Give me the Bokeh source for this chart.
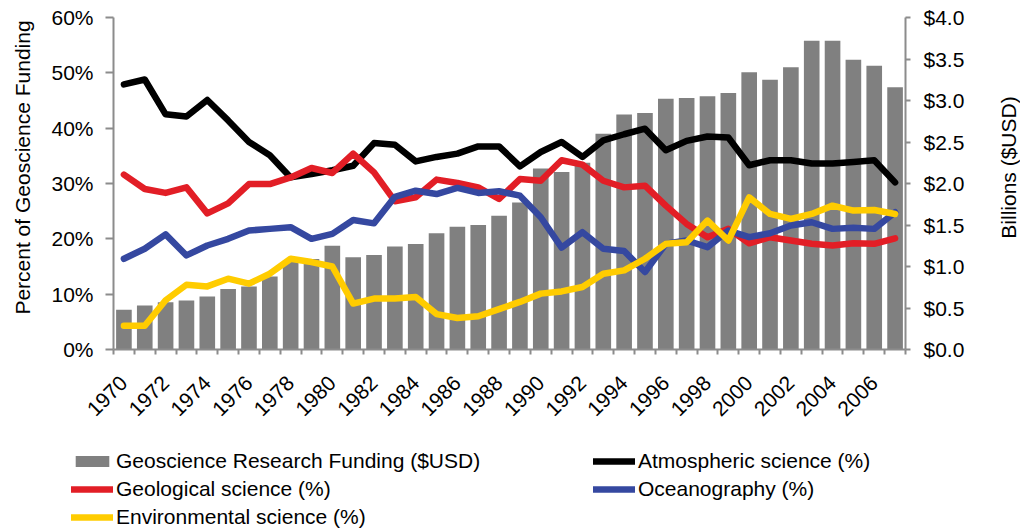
import math
from bokeh.plotting import figure
from bokeh.layouts import column, row
from bokeh.models import (Range1d, LinearAxis, FixedTicker, PrintfTickFormatter,
                          Legend, LegendItem, Label)
from bokeh.embed import file_html
from bokeh.resources import INLINE

years = list(range(1970, 2008))
year_labels = list(range(1970, 2007, 2))

funding_busd = [0.48, 0.53, 0.57, 0.59, 0.64, 0.73, 0.76, 0.88, 1.07, 1.09,
                1.25, 1.11, 1.14, 1.24, 1.27, 1.40, 1.48, 1.50, 1.61, 1.77,
                2.18, 2.14, 2.25, 2.60, 2.83, 2.85, 3.02, 3.03, 3.05, 3.09,
                3.34, 3.25, 3.40, 3.72, 3.72, 3.49, 3.42, 3.16]
atmospheric = [47.9, 48.8, 42.5, 42.1, 45.1, 41.4, 37.5, 35.1, 31.1, 31.7,
               32.4, 33.2, 37.3, 37.0, 34.0, 34.8, 35.4, 36.7, 36.7, 33.1,
               35.7, 37.5, 34.8, 37.8, 38.9, 39.9, 36.0, 37.7, 38.5, 38.3,
               33.3, 34.2, 34.2, 33.6, 33.6, 33.9, 34.2, 30.2]
geological = [31.6, 29.0, 28.3, 29.3, 24.6, 26.4, 29.9, 29.9, 31.1, 32.8,
              31.9, 35.4, 32.0, 26.8, 27.5, 30.7, 30.1, 29.3, 27.2, 30.8,
              30.5, 34.2, 33.4, 30.5, 29.3, 29.6, 26.0, 22.7, 20.3, 21.8,
              19.2, 20.3, 19.7, 19.1, 18.8, 19.2, 19.1, 20.1]
oceanography = [16.4, 18.2, 20.8, 17.0, 18.8, 20.0, 21.5, 21.8, 22.1, 20.0,
                20.9, 23.4, 22.8, 27.6, 28.7, 28.1, 29.2, 28.3, 28.6, 27.8,
                23.9, 18.4, 21.2, 18.2, 17.8, 14.0, 19.1, 19.7, 18.5, 21.5,
                20.3, 21.0, 22.4, 23.0, 21.8, 22.0, 21.8, 24.8]
environmental = [4.3, 4.3, 8.9, 11.7, 11.4, 12.8, 11.9, 13.7, 16.4, 15.8,
                 15.0, 8.3, 9.2, 9.2, 9.5, 6.4, 5.7, 6.0, 7.3, 8.6,
                 10.1, 10.5, 11.3, 13.7, 14.3, 16.4, 19.1, 19.4, 23.3, 19.7,
                 27.5, 24.5, 23.6, 24.5, 26.0, 25.1, 25.2, 24.5]

pct_ticks = [0, 10, 20, 30, 40, 50, 60]
usd_ticks = [0, 0.5, 1.0, 1.5, 2.0, 2.5, 3.0, 3.5, 4.0]

FONT = "Liberation Sans"
FS = "21px"
GRAY = "#8c8c8c"
C_BAR = "#808080"
C_ATM = "#000000"
C_GEO = "#E21E26"
C_OCE = "#3548A0"
C_ENV = "#FFCC00"
LW = 6.5

TOP_H = 440
LEFT_W = 40
RIGHT_W = 25
MAIN_W = 1020 - LEFT_W - RIGHT_W
LEG_H = 529 - TOP_H
FRAME_TOP = 17
FRAME_BOTTOM = 349

p = figure(width=MAIN_W, height=TOP_H, output_backend="svg", toolbar_location=None,
           title=None,
           x_range=Range1d(1969.5, 2007.5), y_range=Range1d(0, 60),
           min_border_left=113 - LEFT_W, min_border_right=LEFT_W + MAIN_W - 905,
           min_border_top=FRAME_TOP, min_border_bottom=TOP_H - FRAME_BOTTOM,
           x_axis_type=None, y_axis_type=None)
p.outline_line_color = None
p.extra_y_ranges = {"usd": Range1d(0, 4)}

xaxis = LinearAxis(ticker=FixedTicker(ticks=year_labels,
                                      minor_ticks=[y - 0.5 for y in years] + [2007.5]))
xaxis.major_tick_line_color = None
xaxis.major_tick_out = 0
xaxis.major_tick_in = 0
xaxis.minor_tick_out = 5
xaxis.minor_tick_in = 0
xaxis.minor_tick_line_color = GRAY
xaxis.minor_tick_line_width = 2
xaxis.axis_line_color = GRAY
xaxis.axis_line_width = 2
xaxis.major_label_orientation = math.pi / 4
xaxis.major_label_standoff = 25
xaxis.major_label_text_font = FONT
xaxis.major_label_text_font_size = FS
xaxis.major_label_text_color = "#000000"
p.add_layout(xaxis, "below")

yaxis = LinearAxis(ticker=FixedTicker(ticks=pct_ticks),
                   formatter=PrintfTickFormatter(format="%d%%"))
yaxis.major_tick_out = 8
yaxis.major_tick_in = 0
yaxis.major_tick_line_color = GRAY
yaxis.major_tick_line_width = 2
yaxis.minor_tick_line_color = None
yaxis.axis_line_color = GRAY
yaxis.axis_line_width = 2
yaxis.major_label_standoff = 12
yaxis.major_label_text_font = FONT
yaxis.major_label_text_font_size = FS
yaxis.major_label_text_color = "#000000"
p.add_layout(yaxis, "left")

raxis = LinearAxis(y_range_name="usd", ticker=FixedTicker(ticks=usd_ticks),
                   formatter=PrintfTickFormatter(format="$%.1f"))
raxis.major_tick_out = 5
raxis.major_tick_in = 0
raxis.major_tick_line_color = GRAY
raxis.major_tick_line_width = 2
raxis.minor_tick_line_color = None
raxis.axis_line_color = GRAY
raxis.axis_line_width = 2
raxis.major_label_standoff = 13
raxis.major_label_text_font = FONT
raxis.major_label_text_font_size = FS
raxis.major_label_text_color = "#000000"
p.add_layout(raxis, "right")

p.ygrid.ticker = FixedTicker(ticks=pct_ticks)
p.ygrid.grid_line_color = GRAY
p.ygrid.grid_line_width = 2
p.xgrid.visible = False

p.vbar(x=years, top=funding_busd, bottom=0, width=0.75, y_range_name="usd",
       fill_color=C_BAR, line_color=None)
p.line(years, atmospheric, line_color=C_ATM, line_width=LW, line_join="round", line_cap="round")
p.line(years, geological, line_color=C_GEO, line_width=LW, line_join="round", line_cap="round")
p.line(years, oceanography, line_color=C_OCE, line_width=LW, line_join="round", line_cap="round")
p.line(years, environmental, line_color=C_ENV, line_width=LW, line_join="round", line_cap="round")


def blank(w, h):
    f = figure(width=w, height=h, output_backend="svg", toolbar_location=None,
               title=None, x_range=Range1d(0, w), y_range=Range1d(0, h),
               min_border=0, min_border_left=0, min_border_right=0,
               min_border_top=0, min_border_bottom=0,
               x_axis_type=None, y_axis_type=None)
    f.outline_line_color = None
    f.xgrid.visible = False
    f.ygrid.visible = False
    return f


# axis titles in narrow side panels; their frames line up with the main frame,
# so screen y is measured from the frame bottom
TITLE_Y = FRAME_BOTTOM - 167
lf = blank(LEFT_W, TOP_H)
lf.add_layout(Label(x=22, y=TITLE_Y, x_units="screen", y_units="screen",
                    text="Percent of Geoscience Funding",
                    angle=math.pi / 2, text_align="center", text_baseline="middle",
                    text_font=FONT, text_font_size=FS, text_color="#000000"))
rf = blank(RIGHT_W, TOP_H)
rf.add_layout(Label(x=1008 - LEFT_W - MAIN_W, y=TITLE_Y, x_units="screen",
                    y_units="screen", text="Billions ($USD)",
                    angle=math.pi / 2, text_align="center", text_baseline="middle",
                    text_font=FONT, text_font_size=FS, text_color="#000000"))

# legend panel; the helper renderers sit outside the visible range
g = blank(1020, LEG_H)
hx = [-50, -40]
hy = [-50, -50]
lb = g.vbar(x=hx, top=hy, width=1, fill_color=C_BAR, line_color=None)
la = g.line(x=hx, y=hy, line_color=C_ATM, line_width=LW, line_cap="round")
lgeo = g.line(x=hx, y=hy, line_color=C_GEO, line_width=LW, line_cap="round")
lo = g.line(x=hx, y=hy, line_color=C_OCE, line_width=LW, line_cap="round")
le = g.line(x=hx, y=hy, line_color=C_ENV, line_width=LW, line_cap="round")


def make_legend(items, loc):
    lg = Legend(items=items, location=loc, orientation="vertical")
    lg.label_text_font = FONT
    lg.label_text_font_size = FS
    lg.label_text_color = "#000000"
    lg.glyph_width = 42
    lg.glyph_height = 14
    lg.label_height = 24
    lg.label_standoff = 3
    lg.spacing = 4
    lg.padding = 0
    lg.margin = 0
    lg.border_line_color = None
    lg.background_fill_alpha = 0
    return lg


g.add_layout(make_legend([LegendItem(label="Geoscience Research Funding ($USD)", renderers=[lb]),
                          LegendItem(label="Geological science (%)", renderers=[lgeo]),
                          LegendItem(label="Environmental science (%)", renderers=[le])],
                         (71, 0)), "center")
g.add_layout(make_legend([LegendItem(label="Atmospheric science (%)", renderers=[la]),
                          LegendItem(label="Oceanography (%)", renderers=[lo])],
                         (593, 28)), "center")

layout = column(row(lf, p, rf), g)
open("out.html", "w").write(file_html(layout, INLINE))
